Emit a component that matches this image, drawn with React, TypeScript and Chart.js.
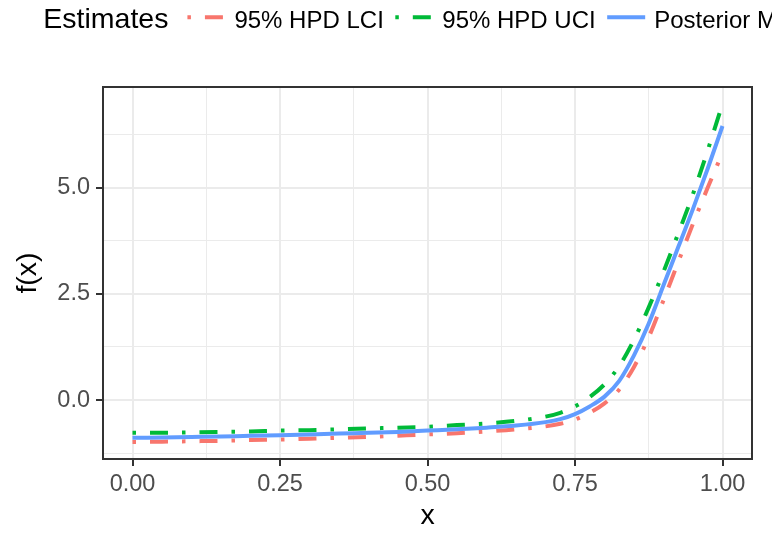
import React, { useEffect, useRef } from 'react';
import { Chart, registerables } from 'chart.js';

Chart.register(...registerables);

// ---------------- data ----------------
const xValues = [0, 0.05, 0.1, 0.15, 0.2, 0.25, 0.3, 0.35, 0.4, 0.45, 0.5, 0.55, 0.6, 0.65, 0.7, 0.725, 0.75, 0.775, 0.8, 0.825, 0.85, 0.875, 0.9, 0.925, 0.95, 0.975, 1.0];
const lciValues = [-0.99, -0.98, -0.97, -0.96, -0.94, -0.93, -0.91, -0.89, -0.87, -0.84, -0.81, -0.78, -0.74, -0.69, -0.62, -0.56, -0.46, -0.30, -0.08, 0.25, 0.78, 1.48, 2.35, 3.25, 4.15, 5.00, 5.82];
const uciValues = [-0.77, -0.77, -0.76, -0.75, -0.74, -0.72, -0.71, -0.69, -0.67, -0.65, -0.63, -0.59, -0.55, -0.49, -0.39, -0.30, -0.15, 0.07, 0.37, 0.80, 1.42, 2.18, 3.02, 3.92, 4.85, 5.88, 6.97];
const meanValues = [-0.89, -0.88, -0.87, -0.86, -0.84, -0.83, -0.81, -0.79, -0.77, -0.75, -0.72, -0.69, -0.65, -0.60, -0.52, -0.45, -0.33, -0.15, 0.08, 0.45, 1.05, 1.80, 2.70, 3.60, 4.50, 5.45, 6.45];

const seriesNames = ['95% HPD LCI', '95% HPD UCI', 'Posterior Mean'];
const seriesColors = ['#F8766D', '#00BA38', '#619CFF'];
const seriesDashed = [true, true, false];

const xMajorTicks = [0, 0.25, 0.5, 0.75, 1];
const xMajorLabels = ['0.00', '0.25', '0.50', '0.75', '1.00'];
const xMinorTicks = [0.125, 0.375, 0.625, 0.875];
const yMajorTicks = [0, 2.5, 5];
const yMajorLabels = ['0.0', '2.5', '5.0'];
const yMinorTicks = [-1.25, 1.25, 3.75, 6.25];

const legendTitle = 'Estimates';
const xTitle = 'x';
const yTitle = 'f(x)';

// ---------------- style ----------------
const FONT = "'Liberation Sans', Arial, Helvetica, sans-serif";
const DASH = [3.5, 14, 18, 14];
const GRID = '#EBEBEB';
const DARK = '#333333';
const TICK_TEXT = '#4D4D4D';

const near = (a: number, b: number) => Math.abs(a - b) < 1e-6;
const majorIndex = (list: number[], v: number) => list.findIndex((t) => near(t, v));

function expandRange(values: number[]) {
  const lo = Math.min(...values);
  const hi = Math.max(...values);
  const pad = (hi - lo) * 0.05;
  return [lo - pad, hi + pad];
}

const ggPlugin = {
  id: 'ggFrame',
  beforeDraw(chart: any) {
    const { ctx, width, height } = chart;
    ctx.save();
    ctx.fillStyle = '#ffffff';
    ctx.fillRect(0, 0, width, height);
    ctx.restore();
  },
  afterDatasetsDraw(chart: any) {
    const { ctx, chartArea } = chart;
    ctx.save();
    ctx.strokeStyle = DARK;
    ctx.lineWidth = 2;
    ctx.setLineDash([]);
    ctx.strokeRect(chartArea.left, chartArea.top, chartArea.right - chartArea.left, chartArea.bottom - chartArea.top);
    ctx.restore();
  },
  afterDraw(chart: any) {
    const ctx = chart.ctx;
    ctx.save();
    ctx.textBaseline = 'alphabetic';
    ctx.textAlign = 'left';
    ctx.fillStyle = '#000000';
    ctx.font = `28.5px ${FONT}`;
    let x = 43.3;
    const baseY = 27.5;
    const keyY = 17.3;
    ctx.fillText(legendTitle, x, baseY);
    x += ctx.measureText(legendTitle).width + 19;
    ctx.font = `24px ${FONT}`;
    seriesNames.forEach((name, i) => {
      ctx.strokeStyle = seriesColors[i];
      ctx.lineWidth = 4;
      ctx.lineCap = 'butt';
      ctx.setLineDash(seriesDashed[i] ? DASH : []);
      ctx.beginPath();
      ctx.moveTo(x, keyY);
      ctx.lineTo(x + 38, keyY);
      ctx.stroke();
      ctx.setLineDash([]);
      ctx.fillStyle = '#000000';
      ctx.fillText(name, x + 47, baseY);
      x += 47 + ctx.measureText(name).width + 11.5;
    });
    ctx.restore();
  },
};

export default function App() {
  const canvasRef = useRef<HTMLCanvasElement | null>(null);

  useEffect(() => {
    document.body.style.margin = '0';
    const canvas = canvasRef.current;
    if (!canvas) return;

    const allY = [...lciValues, ...uciValues, ...meanValues];
    const [yMin, yMax] = expandRange(allY);
    const [xMin, xMax] = expandRange(xValues);

    const series = [lciValues, uciValues, meanValues];
    const datasets = series.map((vals, i) => ({
      label: seriesNames[i],
      data: xValues.map((xv, j) => ({ x: xv, y: vals[j] })),
      borderColor: seriesColors[i],
      backgroundColor: seriesColors[i],
      borderWidth: 4,
      borderDash: seriesDashed[i] ? DASH : [],
      borderCapStyle: 'butt',
      pointRadius: 0,
      pointHoverRadius: 0,
      fill: false,
      cubicInterpolationMode: 'monotone',
      order: 3 - i,
    }));

    const xAll = [...xMajorTicks, ...xMinorTicks].sort((a, b) => a - b);
    const yAll = [...yMajorTicks, ...yMinorTicks].sort((a, b) => a - b);

    const chart = new Chart(canvas, {
      type: 'line',
      data: { datasets: datasets as any },
      plugins: [ggPlugin],
      options: {
        animation: false,
        responsive: false,
        devicePixelRatio: 1,
        events: [],
        layout: { padding: { left: 0, right: 20, top: 87, bottom: 0 } },
        plugins: {
          legend: { display: false },
          tooltip: { enabled: false },
        },
        scales: {
          x: {
            type: 'linear',
            min: xMin,
            max: xMax,
            afterBuildTicks: (s: any) => {
              s.ticks = xAll.map((v) => ({ value: v }));
            },
            afterFit: (s: any) => {
              s.height = 74;
            },
            ticks: {
              autoSkip: false,
              maxRotation: 0,
              minRotation: 0,
              padding: 4,
              color: TICK_TEXT,
              font: { family: FONT, size: 23.5 },
              callback: (v: any) => {
                const k = majorIndex(xMajorTicks, Number(v));
                return k >= 0 ? xMajorLabels[k] : '';
              },
            },
            grid: {
              color: GRID,
              lineWidth: (c: any) => (majorIndex(xMajorTicks, c.tick?.value) >= 0 ? 2 : 1),
              tickColor: (c: any) => (majorIndex(xMajorTicks, c.tick?.value) >= 0 ? DARK : 'rgba(0,0,0,0)'),
              tickLength: 7,
              tickWidth: 2,
              drawTicks: true,
            },
            border: { display: false },
            title: {
              display: true,
              text: xTitle,
              color: '#000000',
              font: { family: FONT, size: 28.5 },
              padding: { top: 0, bottom: 0 },
            },
          },
          y: {
            type: 'linear',
            min: yMin,
            max: yMax,
            afterBuildTicks: (s: any) => {
              s.ticks = yAll.map((v) => ({ value: v }));
            },
            afterFit: (s: any) => {
              s.width = 103;
            },
            ticks: {
              autoSkip: false,
              padding: 6,
              color: TICK_TEXT,
              font: { family: FONT, size: 23.5 },
              callback: (v: any) => {
                const k = majorIndex(yMajorTicks, Number(v));
                return k >= 0 ? yMajorLabels[k] : '';
              },
            },
            grid: {
              color: GRID,
              lineWidth: (c: any) => (majorIndex(yMajorTicks, c.tick?.value) >= 0 ? 2 : 1),
              tickColor: (c: any) => (majorIndex(yMajorTicks, c.tick?.value) >= 0 ? DARK : 'rgba(0,0,0,0)'),
              tickLength: 7,
              tickWidth: 2,
              drawTicks: true,
            },
            border: { display: false },
            title: {
              display: true,
              text: yTitle,
              color: '#000000',
              font: { family: FONT, size: 28.5 },
              padding: { top: 11, bottom: 0 },
            },
          },
        },
      } as any,
    });

    return () => {
      chart.destroy();
    };
  }, []);

  return (
    <div style={{ position: 'absolute', left: 0, top: 0, width: 772, height: 533, background: '#ffffff' }}>
      <canvas ref={canvasRef} width={772} height={533} style={{ display: 'block', width: 772, height: 533 }} />
    </div>
  );
}
